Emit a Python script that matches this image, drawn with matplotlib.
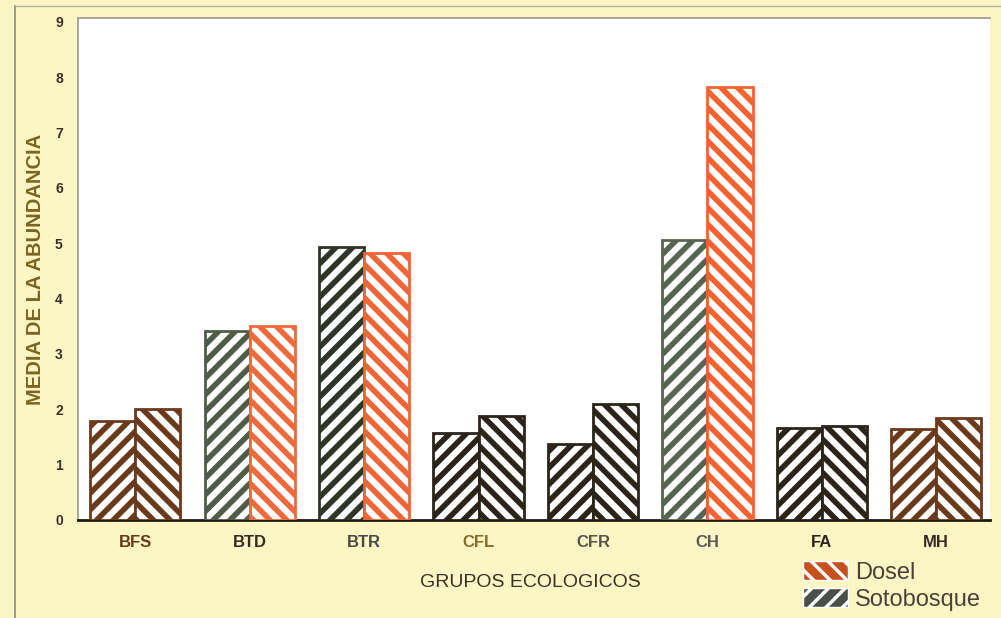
import matplotlib
matplotlib.use("Agg")
import matplotlib.pyplot as plt
import matplotlib.patches as mpatches
import numpy as np

groups = ["BFS", "BTD", "BTR", "CFL", "CFR", "CH", "FA", "MH"]
sotobosque = [1.79, 3.42, 4.94, 1.57, 1.37, 5.06, 1.66, 1.65]
dosel = [2.00, 3.51, 4.83, 1.88, 2.10, 7.83, 1.70, 1.84]
y_ticks = list(range(0, 10))

# stroke colours for each group (sotobosque, dosel)
BROWN = "#6b3a1c"
DARK = "#2b2419"
soto_colors = [BROWN, "#4f5c47", "#2e3628", DARK, DARK, "#56654f", DARK, BROWN]
dosel_colors = [BROWN, "#ee6a3c", "#ef6535", DARK, DARK, "#f4622f", DARK, BROWN]
label_colors = ["#6b3a1c", "#3a2a22", "#4a4a44", "#8a6a2a", "#5a5450", "#5a5a55", "#2b2419", "#3a2a22"]

plt.rcParams["font.family"] = ["Liberation Sans", "DejaVu Sans"]
plt.rcParams["hatch.linewidth"] = 4.0

fig = plt.figure(figsize=(10.01, 6.18), dpi=100)
fig.patch.set_facecolor("#fbf6c4")
ax = fig.add_axes([0.078, 0.1586, 0.911, 0.8123])
ax.set_facecolor("white")

x = np.arange(len(groups))
w = 0.395
for i in range(len(groups)):
    ax.bar(x[i] - w / 2, sotobosque[i], width=w, facecolor="white",
           edgecolor=soto_colors[i], hatch="//", linewidth=2.0, zorder=3)
    ax.bar(x[i] + w / 2, dosel[i], width=w, facecolor="white",
           edgecolor=dosel_colors[i], hatch="\\\\", linewidth=2.0, zorder=3)

ax.set_xlim(-0.5, 7.47)
ax.set_ylim(0, 9.07)
ax.set_yticks(y_ticks)
ax.set_yticklabels([str(t) for t in y_ticks], fontsize=10, fontweight="bold",
                   color="#3a3028")
ax.set_xticks(x)
ax.set_xticklabels(groups, fontsize=12, fontweight="bold")
for lbl, c in zip(ax.get_xticklabels(), label_colors):
    lbl.set_color(c)
ax.tick_params(axis="both", length=0)
ax.tick_params(axis="y", pad=11)
ax.tick_params(axis="x", pad=11)

for side in ["top", "left", "right"]:
    ax.spines[side].set_color("#9a9a90")
    ax.spines[side].set_linewidth(1.2)
ax.spines["right"].set_visible(False)
ax.spines["bottom"].set_color("#1e1a14")
ax.spines["bottom"].set_linewidth(2.0)

ax.set_ylabel("MEDIA DE LA ABUNDANCIA", fontsize=14.5, fontweight="bold",
              color="#7a6420", labelpad=7)
fig.text(0.53, 0.057, "GRUPOS ECOLOGICOS", fontsize=14, color="#3a3028",
         ha="center", va="center")

# outer frame lines of the page
fig.add_artist(plt.Line2D([0.015, 0.015], [0.0, 0.99], color="#8a8a80", lw=1.2))
fig.add_artist(plt.Line2D([0.015, 1.0], [0.99, 0.99], color="#b0b0a0", lw=1.0))

# legend: solid swatches crossed by thin white stripes
with plt.rc_context({"hatch.linewidth": 2.5}):
    h_dosel = mpatches.Patch(facecolor="#c8501e", edgecolor="white", hatch="\\\\")
    h_soto = mpatches.Patch(facecolor="#4a5045", edgecolor="white", hatch="//")
    leg = fig.legend([h_dosel, h_soto], ["Dosel", "Sotobosque"],
                     loc="center", bbox_to_anchor=(0.891, 0.052), frameon=False,
                     fontsize=17, handlelength=1.9, handleheight=0.85,
                     handletextpad=0.3, labelspacing=0.2, borderpad=0.2)
for t in leg.get_texts():
    t.set_color("#4a4238")

fig.savefig("out.png", dpi=100, facecolor=fig.get_facecolor())
